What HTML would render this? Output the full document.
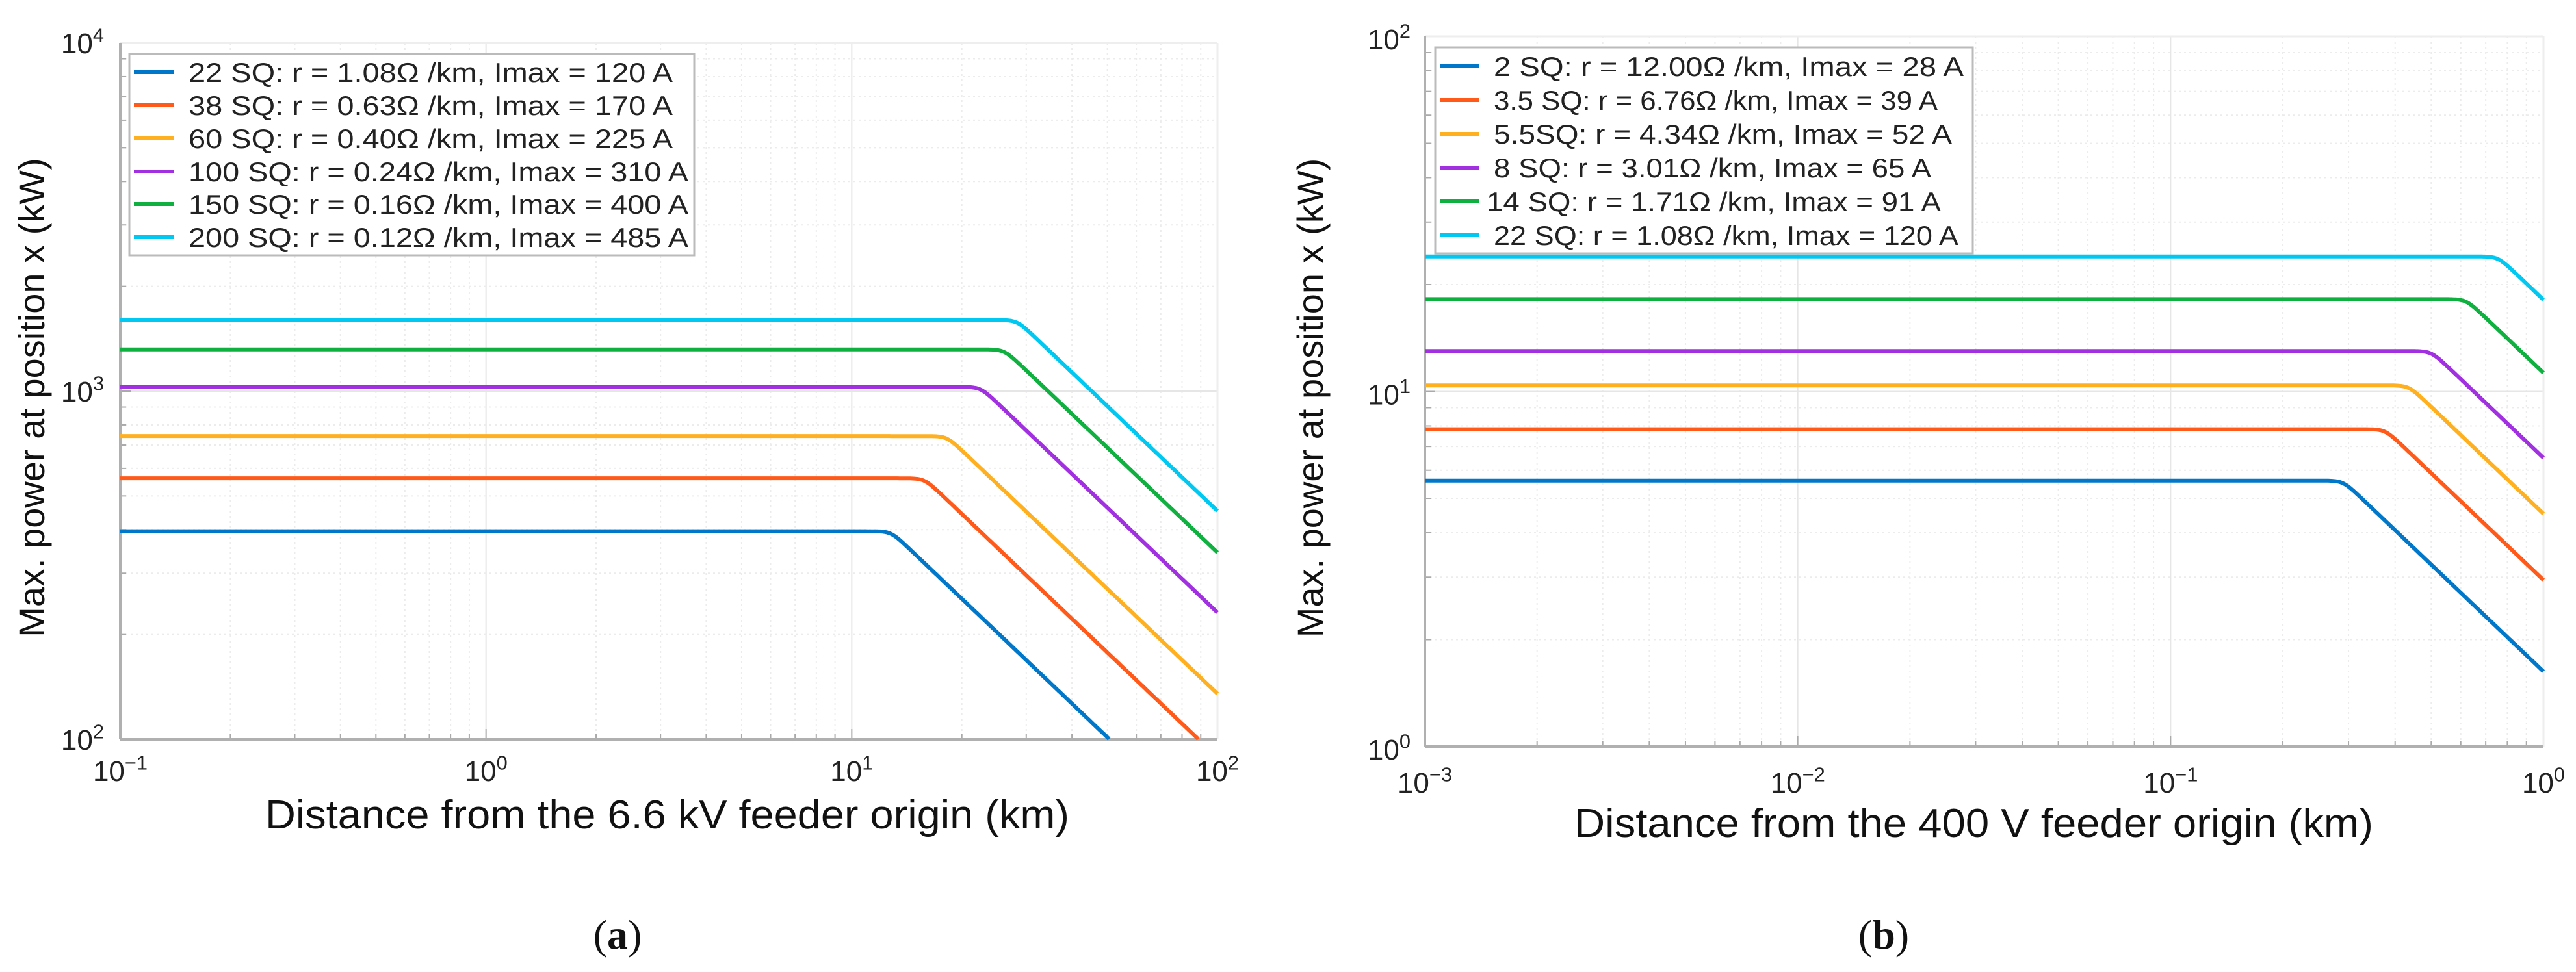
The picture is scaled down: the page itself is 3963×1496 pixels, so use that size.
<!DOCTYPE html>
<html><head><meta charset="utf-8"><style>
html,body{margin:0;padding:0;background:#fff;}
svg{display:block;}
</style></head><body>
<svg id="fig" width="3963" height="1496" xmlns="http://www.w3.org/2000/svg"></svg>
<script>
// Panel (a) data
const aLabels = ["22 SQ: r = 1.08\u03A9 /km, Imax = 120 A","38 SQ: r = 0.63\u03A9 /km, Imax = 170 A","60 SQ: r = 0.40\u03A9 /km, Imax = 225 A","100 SQ: r = 0.24\u03A9 /km, Imax = 310 A","150 SQ: r = 0.16\u03A9 /km, Imax = 400 A","200 SQ: r = 0.12\u03A9 /km, Imax = 485 A"];
const aPmax = [396, 562, 743, 1028, 1318, 1600];
const aKnee = [12.8, 15.8, 18.2, 22.5, 26.1, 28.3];
const aXTicks = [-1, 0, 1, 2];
const aYTicks = [2, 3, 4];
// Panel (b) data
const bLabels = ["2 SQ: r = 12.00\u03A9 /km, Imax = 28 A","3.5 SQ: r = 6.76\u03A9 /km, Imax = 39 A","5.5SQ: r = 4.34\u03A9 /km, Imax = 52 A","8 SQ: r = 3.01\u03A9 /km, Imax = 65 A","14 SQ: r = 1.71\u03A9 /km, Imax = 91 A","22 SQ: r = 1.08\u03A9 /km, Imax = 120 A"];
const bPmax = [5.61, 7.83, 10.4, 13.0, 18.2, 24.0];
const bKnee = [0.29, 0.376, 0.435, 0.50, 0.62, 0.755];
const bXTicks = [-3, -2, -1, 0];
const bYTicks = [0, 1, 2];
const colors = ["#0077c8","#ff5a1a","#ffb020","#a030e0","#10b040","#00c8f0"];

const NS = "http://www.w3.org/2000/svg";
const svg = document.getElementById("fig");
function mk(tag, attrs, parent){const e=document.createElementNS(NS,tag);for(const k in attrs)e.setAttribute(k,attrs[k]);(parent||svg).appendChild(e);return e;}

function panel(o){
  const g = mk("g",{});
  
  
  const sx = v => o.x0 + (Math.log10(v) - o.xmin) / (o.xmax - o.xmin) * (o.x1 - o.x0);
  const sy = v => o.y1 - (Math.log10(v) - o.ymin) / (o.ymax - o.ymin) * (o.y1 - o.y0);
  const grid = mk("g",{},g);
  
  
  for(let d=o.xmin; d<o.xmax; d++){
    for(let m=1;m<=9;m++){
      const v=m*Math.pow(10,d); const x=sx(v);
      if(m===1){ if(d>o.xmin) mk("line",{x1:x,x2:x,y1:o.y0,y2:o.y1,stroke:"#e6e6e6","stroke-width":2},grid); }
      else mk("line",{x1:x,x2:x,y1:o.y0,y2:o.y1,stroke:"#ececec","stroke-width":2,"stroke-dasharray":"3 5"},grid);
      const tl = m===1?16:9;
      mk("line",{x1:x,x2:x,y1:o.y1,y2:o.y1-tl,stroke:"#aaa","stroke-width":2},grid);
    }
  }
  for(let d=o.ymin; d<o.ymax; d++){
    for(let m=1;m<=9;m++){
      const v=m*Math.pow(10,d); const y=sy(v);
      if(m===1){ if(d>o.ymin) mk("line",{x1:o.x0,x2:o.x1,y1:y,y2:y,stroke:"#e6e6e6","stroke-width":2},grid); }
      else mk("line",{x1:o.x0,x2:o.x1,y1:y,y2:y,stroke:"#ececec","stroke-width":2,"stroke-dasharray":"3 5"},grid);
      const tl = m===1?16:9;
      mk("line",{x1:o.x0,x2:o.x0+tl,y1:y,y2:y,stroke:"#aaa","stroke-width":2},grid);
    }
  }
  mk("line",{x1:o.x0,x2:o.x1,y1:o.y0,y2:o.y0,stroke:"#eee","stroke-width":3},g);
  mk("line",{x1:o.x1,x2:o.x1,y1:o.y0,y2:o.y1,stroke:"#eee","stroke-width":3},g);
  const ax=mk("line",{x1:o.x0,x2:o.x1,y1:o.y1,y2:o.y1,stroke:"#b0b0b0","stroke-width":4},g);
  
  
  const ay=mk("line",{x1:o.x0,x2:o.x0,y1:o.y0,y2:o.y1,stroke:"#b0b0b0","stroke-width":4},g);
  
  
  o.pmax.forEach((p,i)=>{
    const K = p*o.knee[i];
    let d="";
    const N=800;
    for(let k=0;k<=N;k++){
      const lx=o.xmin+(o.xmax-o.xmin)*k/N; const x=Math.pow(10,lx);
      const n=40;
      const v=Math.pow(Math.pow(p,-n)+Math.pow(x/K,n),-1/n);
      if(v<Math.pow(10,o.ymin)) break;
      d+=(k?"L":"M")+sx(x).toFixed(1)+" "+sy(v).toFixed(1);
    }
    const path=mk("path",{d:d,fill:"none",stroke:colors[i],"stroke-width":6,"stroke-linejoin":"round"},g);
    
    
  });
  o.xticks.forEach(t=>{
    const tx=mk("text",{x:sx(Math.pow(10,t)),y:o.xty,"font-family":o.tfont,"font-size":o.tfs,"text-anchor":"middle",fill:"#222"},g);
    
    
    tx.textContent="10";
    const s=mk("tspan",{dy:-o.tfs*0.4,"font-size":o.tfs*0.7},tx); s.textContent=String(t).replace("-","\u2212");
  });
  o.yticks.forEach(t=>{
    const ty=mk("text",{x:o.ytx,y:sy(Math.pow(10,t))+o.ytdy,"font-family":o.tfont,"font-size":o.tfs,"text-anchor":"end",fill:"#222"},g);
    
    
    ty.textContent="10";
    const s=mk("tspan",{dy:-o.tfs*0.4,"font-size":o.tfs*0.7},ty); s.textContent=String(t).replace("-","\u2212");
  });
  const xt=mk("text",{x:o.xtl[0],y:o.xtl[2],"font-family":o.xtfont,"font-size":o.xtfs,textLength:o.xtl[1]-o.xtl[0],lengthAdjust:"spacingAndGlyphs",fill:"#111"},g);
  
  
  xt.textContent=o.xtitle;
  const cy=(o.y0+o.y1)/2;
  const yt=mk("text",{x:0,y:0,"font-family":"Liberation Sans, sans-serif","font-size":56,"text-anchor":"middle",transform:`translate(${o.ytitx},${cy+10}) rotate(-90)`,fill:"#111"},g);
  
  
  yt.textContent="Max. power at position x (kW)";
  const lg=mk("g",{},g);
  
  
  mk("rect",{x:o.leg[0],y:o.leg[1],width:o.leg[2]-o.leg[0],height:o.leg[3]-o.leg[1],fill:"#fff",stroke:"#bbb","stroke-width":3},lg);
  o.labels.forEach((lab,i)=>{
    const y=o.rows[i];
    const ln=mk("line",{x1:o.leg[0]+7,x2:o.leg[0]+68,y1:y,y2:y,stroke:colors[i],"stroke-width":6},lg);
    
    
    const tx=mk("text",{x:o.lx[i],y:y+15,"font-family":"Liberation Sans Narrow, Liberation Sans, sans-serif","font-size":42,textLength:o.lend[i]-o.lx[i],lengthAdjust:"spacingAndGlyphs",fill:"#222"},lg);
    
    
    tx.textContent=lab;
  });
}

panel({name:"panel-a",x0:185,x1:1873,y0:66,y1:1138,xmin:-1,xmax:2,ymin:2,ymax:4,
  pmax:aPmax,knee:aKnee,xticks:aXTicks,yticks:aYTicks,labels:aLabels,
  tfont:"Liberation Sans Narrow, Liberation Sans, sans-serif",tfs:44,xty:1202,ytx:160,ytdy:16,
  xtitle:"Distance from the 6.6 kV feeder origin (km)",xtl:[408,1645,1275],xtfont:"Liberation Sans Narrow, Liberation Sans, sans-serif",xtfs:62,
  ytitx:68,leg:[199,83,1068,393],rows:[111,162,213,264,314,365],
  lx:[290,290,290,290,290,290],lend:[1035,1035,1035,1059,1059,1059]});

panel({name:"panel-b",x0:2192,x1:3913,y0:56,y1:1149,xmin:-3,xmax:0,ymin:0,ymax:2,
  pmax:bPmax,knee:bKnee,xticks:bXTicks,yticks:bYTicks,labels:bLabels,
  tfont:"Liberation Sans, sans-serif",tfs:44,xty:1220,ytx:2170,ytdy:20,
  xtitle:"Distance from the 400 V feeder origin (km)",xtl:[2422,3651,1288],xtfont:"Liberation Sans, sans-serif",xtfs:62,
  ytitx:2035,leg:[2208,73,3035,390],rows:[102,154,206,258,310,362],
  lx:[2298,2298,2298,2298,2287,2298],lend:[3021,2981,3003,2971,2986,3013]});

const ca=mk("text",{x:950,y:1460,"font-family":"Liberation Serif, serif","font-size":64,"text-anchor":"middle",fill:"#111"});


ca.innerHTML='(<tspan font-weight="bold">a</tspan>)';
const cb=mk("text",{x:2898,y:1460,"font-family":"Liberation Serif, serif","font-size":64,"text-anchor":"middle",fill:"#111"});


cb.innerHTML='(<tspan font-weight="bold">b</tspan>)';
</script>
</body></html>
